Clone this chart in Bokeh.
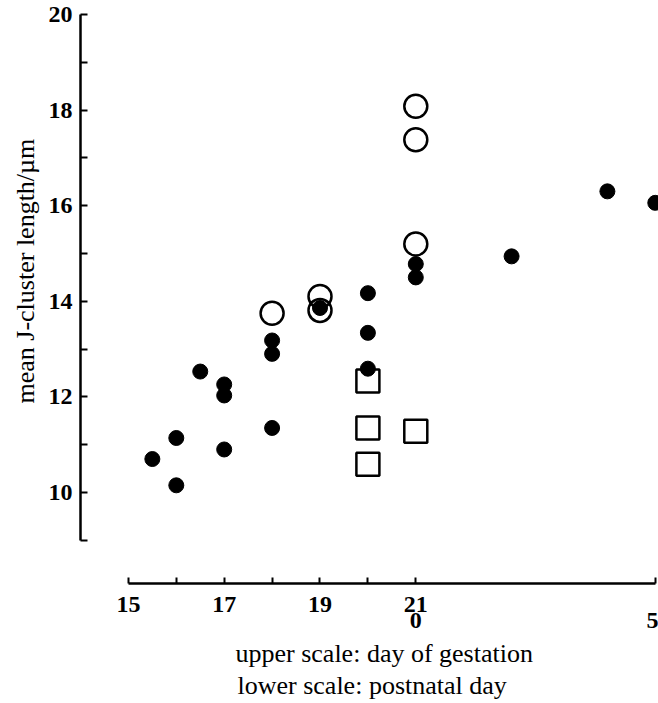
from bokeh.plotting import figure
from bokeh.models import Range1d, FixedTicker, Title
from bokeh.embed import file_html
from bokeh.resources import INLINE

# age axis: gestation day; postnatal day d is plotted at 21 + d
filled_day = [15.5, 16, 16, 16.5, 17, 17, 17, 18, 18, 18, 19, 20, 20, 20, 21, 21, 23, 25, 26]
filled_val = [10.70, 11.14, 10.15, 12.53, 12.26, 12.03, 10.90, 13.18, 12.90, 11.35,
              13.86, 14.17, 13.34, 12.59, 14.78, 14.50, 14.94, 16.30, 16.06]

open_circle_day = [21, 21, 21, 18, 19, 19]
open_circle_val = [18.08, 17.38, 15.20, 13.75, 14.10, 13.81]

square_day = [20, 20, 20, 21]
square_val = [12.33, 11.35, 10.59, 11.28]

x_ticks = [15, 16, 17, 18, 19, 20, 21, 26]
x_tick_labels = {15: "15", 16: "", 17: "17", 18: "", 19: "19", 20: "", 21: "21\n0", 26: "\n5"}
y_major = [10, 12, 14, 16, 18, 20]
y_minor = [9, 11, 13, 15, 17, 19]

SERIF = "Liberation Serif"

p = figure(frame_width=578, frame_height=569,
           x_range=Range1d(14, 26.067), y_range=Range1d(8.096, 20),
           output_backend="svg", toolbar_location=None,
           min_border_left=80, min_border_right=0, min_border_top=14, min_border_bottom=120)
p.xgrid.visible = False
p.ygrid.visible = False
p.outline_line_color = None
p.background_fill_color = "white"
p.border_fill_color = "white"

# y axis
ya = p.yaxis[0]
ya.ticker = FixedTicker(ticks=y_major, minor_ticks=y_minor)
ya.bounds = (9, 20)
ya.axis_line_width = 2.5
ya.major_tick_in = 7
ya.major_tick_out = 0
ya.minor_tick_in = 7
ya.minor_tick_out = 0
ya.major_tick_line_width = 2
ya.minor_tick_line_width = 2
ya.major_label_standoff = 8
ya.major_label_text_font = SERIF
ya.major_label_text_font_style = "bold"
ya.major_label_text_font_size = "24px"
ya.major_label_text_color = "black"

# x axis
xa = p.xaxis[0]
xa.ticker = FixedTicker(ticks=x_ticks, minor_ticks=[])
xa.major_label_overrides = x_tick_labels
xa.bounds = (15, 26)
xa.axis_line_width = 2.5
xa.major_tick_in = 6
xa.major_tick_out = 0
xa.minor_tick_in = 0
xa.minor_tick_out = 0
xa.major_tick_line_width = 2
xa.major_label_standoff = 7
xa.major_label_text_font = SERIF
xa.major_label_text_font_style = "bold"
xa.major_label_text_font_size = "24px"
xa.major_label_text_color = "black"
xa.major_label_text_line_height = 0.65

# axis titles
p.add_layout(Title(text="mean J-cluster length/µm", align="left", offset=180,
                   text_font=SERIF, text_font_style="normal", text_font_size="26px",
                   text_color="black", standoff=11), "left")
p.add_layout(Title(text="upper scale: day of gestation", align="left", offset=155,
                   text_font=SERIF, text_font_style="normal", text_font_size="26px",
                   text_color="black", standoff=1), "below")
p.add_layout(Title(text="lower scale: postnatal day", align="left", offset=157,
                   text_font=SERIF, text_font_style="normal", text_font_size="26px",
                   text_color="black", standoff=0), "below")

# markers
p.scatter(open_circle_day, open_circle_val, marker="circle", size=23,
          fill_color=None, line_color="black", line_width=2.5)
p.scatter(square_day, square_val, marker="square", size=23,
          fill_color=None, line_color="black", line_width=2.5)
p.scatter(filled_day, filled_val, marker="circle", size=15,
          fill_color="black", line_color="black")

open("out.html", "w").write(file_html(p, INLINE))
